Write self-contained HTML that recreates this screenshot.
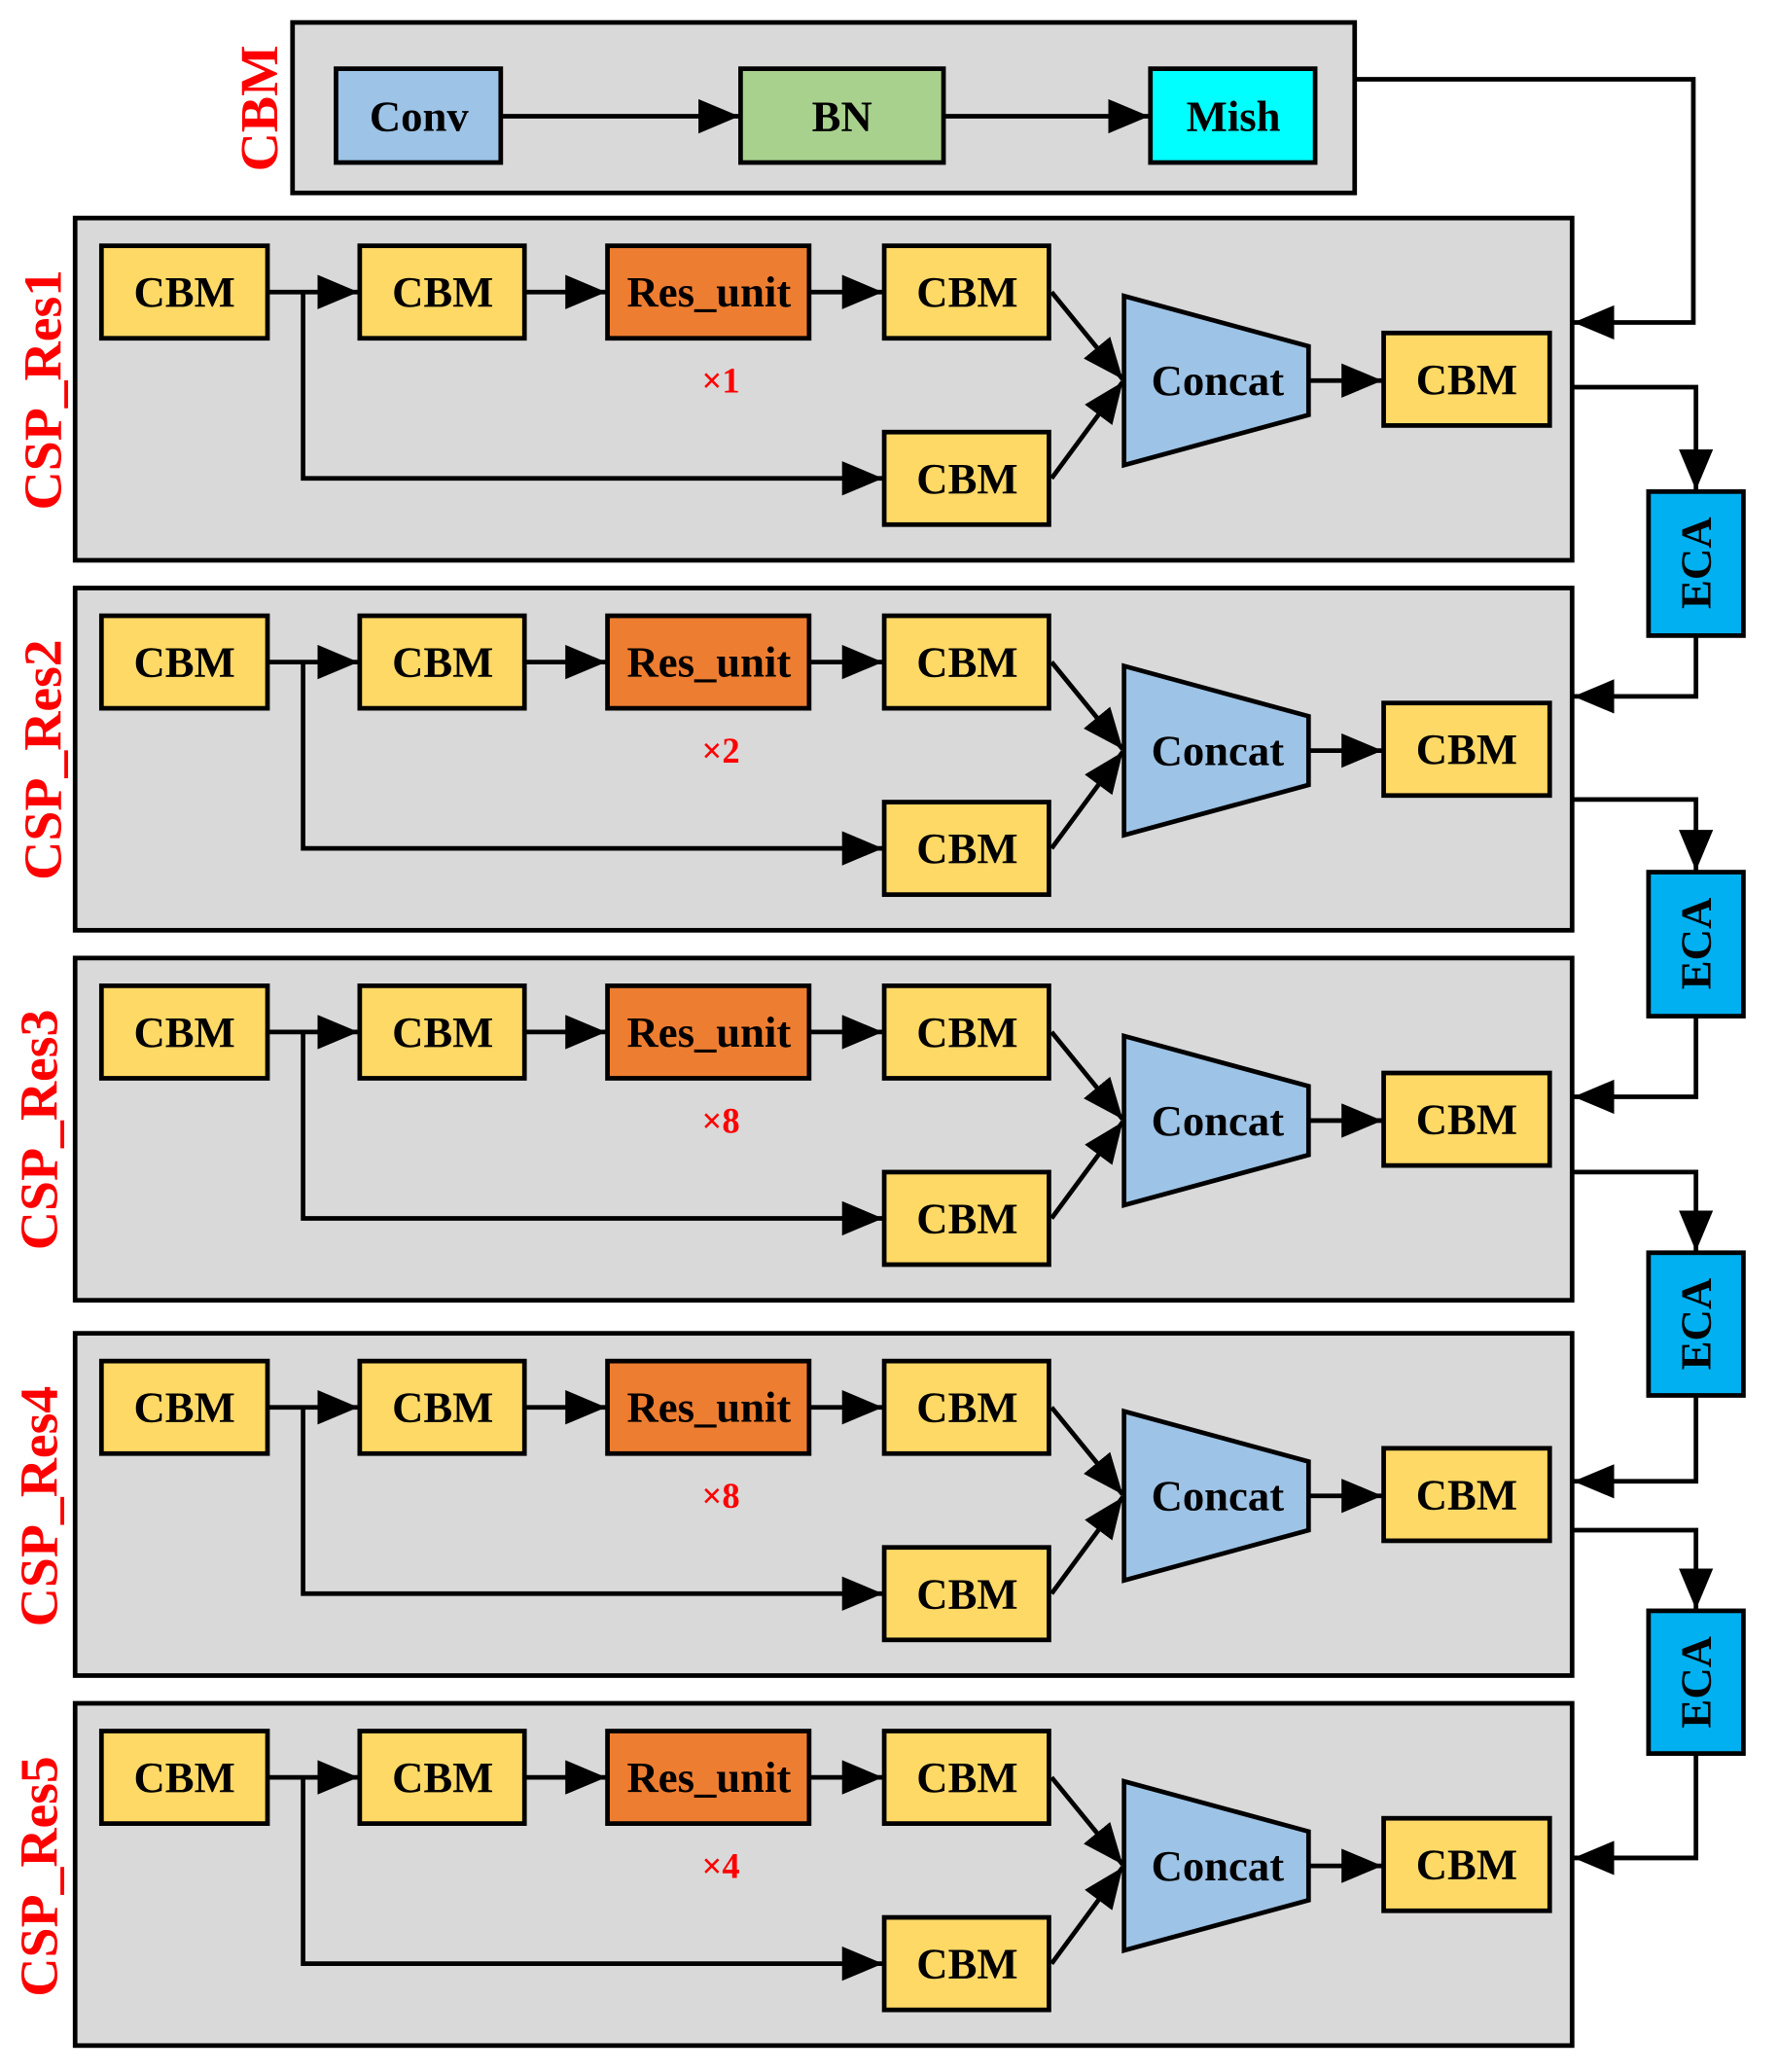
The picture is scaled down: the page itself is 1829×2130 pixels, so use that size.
<!DOCTYPE html>
<html><head><meta charset="utf-8"><style>
html,body{margin:0;padding:0;background:#fff}
svg{display:block}
text{font-family:"Liberation Serif",serif;font-weight:bold}
.b{stroke:#000;stroke-width:3.5}
.l{stroke:#000;stroke-width:3.5;fill:none}
.t{font-size:33px;text-anchor:middle;dominant-baseline:central}
.r{fill:#f00;font-size:41px;text-anchor:middle;dominant-baseline:central}
.x{fill:#f00;font-size:27px;text-anchor:middle;dominant-baseline:central}
</style></head><body>
<svg width="1829" height="2130" viewBox="0 0 1350 1568" preserveAspectRatio="none" xmlns="http://www.w3.org/2000/svg">
<defs>
<marker id="a" markerUnits="userSpaceOnUse" markerWidth="34" markerHeight="28" refX="31" refY="13" orient="auto"><path d="M0,0 L31,13 L0,26 z" fill="#000"/></marker>
<g id="blk">
<rect x="57" y="165" width="1136" height="259" fill="#d9d9d9" class="b"/>
<rect x="77" y="186" width="126" height="70" fill="#ffd966" class="b"/>
<rect x="273" y="186" width="125" height="70" fill="#ffd966" class="b"/>
<rect x="461" y="186" width="153" height="70" fill="#ed7d31" class="b"/>
<rect x="671" y="186" width="125" height="70" fill="#ffd966" class="b"/>
<rect x="671" y="327" width="125" height="70" fill="#ffd966" class="b"/>
<rect x="1050" y="252" width="126" height="70" fill="#ffd966" class="b"/>
<path d="M853,224 L993,262 L993,314 L853,352 z" fill="#9dc3e6" class="b"/>
<line x1="203" y1="221" x2="272" y2="221" class="l" marker-end="url(#a)"/>
<polyline points="230,221 230,362 670,362" class="l" marker-end="url(#a)"/>
<line x1="398" y1="221" x2="460" y2="221" class="l" marker-end="url(#a)"/>
<line x1="614" y1="221" x2="670" y2="221" class="l" marker-end="url(#a)"/>
<line x1="798" y1="221" x2="852" y2="287" class="l" marker-end="url(#a)"/>
<line x1="798" y1="362" x2="852" y2="289" class="l" marker-end="url(#a)"/>
<line x1="993" y1="288" x2="1049" y2="288" class="l" marker-end="url(#a)"/>
<text x="140" y="221" class="t">CBM</text>
<text x="336" y="221" class="t">CBM</text>
<text x="538" y="221" class="t">Res_unit</text>
<text x="734" y="221" class="t">CBM</text>
<text x="734" y="362" class="t">CBM</text>
<text x="1113" y="287" class="t">CBM</text>
<text x="924" y="288" class="t">Concat</text>
</g>
</defs>
<rect x="222" y="17" width="806" height="129" fill="#d9d9d9" class="b"/>
<rect x="255" y="52" width="125" height="71" fill="#9dc3e6" class="b"/>
<rect x="562" y="52" width="154" height="71" fill="#a9d18e" class="b"/>
<rect x="873" y="52" width="125" height="71" fill="#00ffff" class="b"/>
<line x1="380" y1="88" x2="561" y2="88" class="l" marker-end="url(#a)"/>
<line x1="716" y1="88" x2="872" y2="88" class="l" marker-end="url(#a)"/>
<text x="318" y="88" class="t">Conv</text>
<text x="639" y="88" class="t">BN</text>
<text x="936" y="88" class="t">Mish</text>
<text class="r" transform="translate(197,82) rotate(-90)">CBM</text>

<use href="#blk"/>
<use href="#blk" transform="translate(0,280)"/>
<use href="#blk" transform="translate(0,560)"/>
<use href="#blk" transform="translate(0,844)"/>
<use href="#blk" transform="translate(0,1124)"/>
<text x="547" y="288" class="x">×1</text>
<text x="547" y="568" class="x">×2</text>
<text x="547" y="848" class="x">×8</text>
<text x="547" y="1132" class="x">×8</text>
<text x="547" y="1412" class="x">×4</text>
<text class="r" transform="translate(33,295) rotate(-90)">CSP_Res1</text>
<text class="r" transform="translate(33,575) rotate(-90)">CSP_Res2</text>
<text class="r" transform="translate(30,855) rotate(-90)">CSP_Res3</text>
<text class="r" transform="translate(30,1140) rotate(-90)">CSP_Res4</text>
<text class="r" transform="translate(30,1420) rotate(-90)">CSP_Res5</text>

<rect x="1251" y="372" width="72" height="109" fill="#00b0f0" class="b"/>
<rect x="1251" y="660" width="72" height="109" fill="#00b0f0" class="b"/>
<rect x="1251" y="948" width="72" height="108" fill="#00b0f0" class="b"/>
<rect x="1251" y="1219" width="72" height="108" fill="#00b0f0" class="b"/>
<text class="t" transform="translate(1287,426) rotate(-90)">ECA</text>
<text class="t" transform="translate(1287,714) rotate(-90)">ECA</text>
<text class="t" transform="translate(1287,1002) rotate(-90)">ECA</text>
<text class="t" transform="translate(1287,1273) rotate(-90)">ECA</text>

<polyline points="1028,60 1285,60 1285,244 1194,244" class="l" marker-end="url(#a)"/>
<polyline points="1193,293 1287,293 1287,371" class="l" marker-end="url(#a)"/>
<polyline points="1287,481 1287,527 1194,527" class="l" marker-end="url(#a)"/>
<polyline points="1193,605 1287,605 1287,659" class="l" marker-end="url(#a)"/>
<polyline points="1287,769 1287,830 1194,830" class="l" marker-end="url(#a)"/>
<polyline points="1193,887 1287,887 1287,947" class="l" marker-end="url(#a)"/>
<polyline points="1287,1056 1287,1121 1194,1121" class="l" marker-end="url(#a)"/>
<polyline points="1193,1158 1287,1158 1287,1218" class="l" marker-end="url(#a)"/>
<polyline points="1287,1327 1287,1406 1194,1406" class="l" marker-end="url(#a)"/>
</svg>
</body></html>
